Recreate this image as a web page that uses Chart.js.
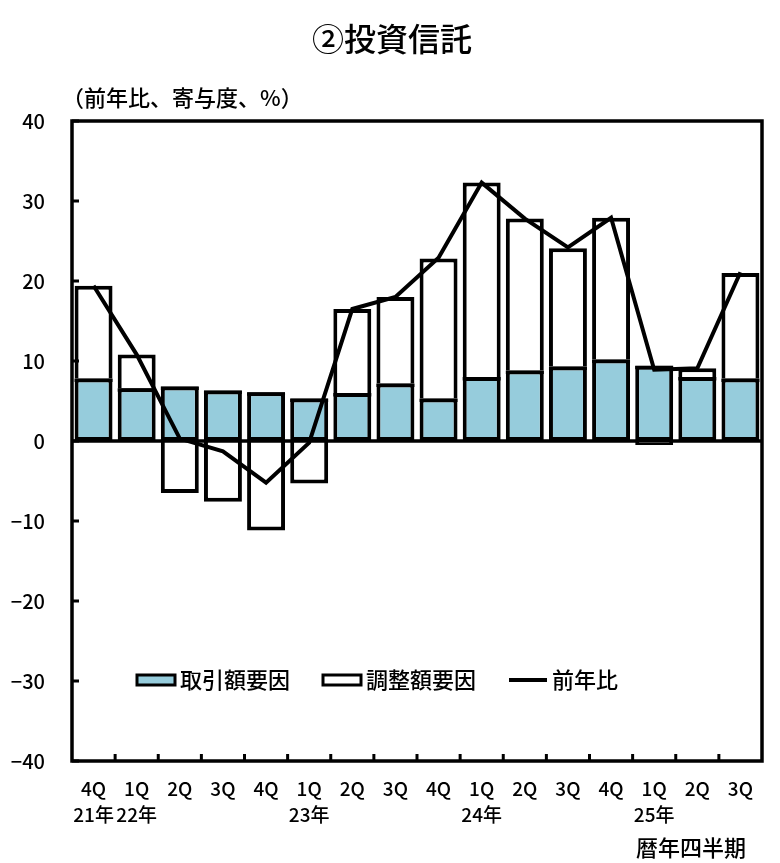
<!DOCTYPE html>
<html>
<head>
<meta charset="utf-8">
<script src="https://cdn.jsdelivr.net/npm/chart.js@4"></script>
<style>
  html, body { margin: 0; padding: 0; background: #fff; }
  #wrap { width: 780px; height: 863px; }
</style>
</head>
<body>
<div id="wrap"><canvas id="fundChart" width="780" height="863"></canvas></div>
<script>
// Data (percent, y/y and contributions)
const quarters = ['4Q', '1Q', '2Q', '3Q', '4Q', '1Q', '2Q', '3Q', '4Q', '1Q', '2Q', '3Q', '4Q', '1Q', '2Q', '3Q'];
const years = ['21年', '22年', '', '', '', '23年', '', '', '', '24年', '', '', '', '25年', '', ''];
const tradeFactor = [7.8, 6.6, 6.8, 6.3, 6.1, 5.3, 6.0, 7.2, 5.3, 8.0, 8.8, 9.3, 10.2, 9.4, 8.0, 7.8];
const adjustFactor = [11.6, 4.2, -6.5, -7.6, -11.2, -5.3, 10.5, 10.8, 17.5, 24.3, 19.0, 14.8, 17.7, -0.5, 1.1, 13.2];
const yoy = [19.4, 10.8, 0.3, -1.3, -5.2, -0.2, 16.5, 18.0, 22.9, 32.3, 27.8, 24.2, 27.9, 8.9, 9.1, 21.1];
const yTicks = [-40, -30, -20, -10, 0, 10, 20, 30, 40];

const FONT = "'Noto Sans CJK JP', 'Noto Sans', sans-serif";
const BLUE = '#96ccdc';

// title, unit text, in-plot legend, frame and inside tick marks
const decorPlugin = {
  id: 'decor',
  afterDatasetsDraw(chart) {
    const ctx = chart.ctx;
    const area = chart.chartArea;
    const y0 = chart.scales.y.getPixelForValue(0);
    ctx.save();
    ctx.strokeStyle = '#000';
    // top edge of each blue bar (boundary with the stacked white part)
    ctx.lineWidth = 3.5;
    ctx.beginPath();
    chart.getDatasetMeta(0).data.forEach(bar => {
      const p = bar.getProps(['x', 'y', 'width'], true);
      ctx.moveTo(p.x - p.width / 2, p.y + 1.75);
      ctx.lineTo(p.x + p.width / 2, p.y + 1.75);
    });
    ctx.stroke();
    // zero line
    ctx.beginPath();
    ctx.moveTo(area.left, y0);
    ctx.lineTo(area.right, y0);
    ctx.stroke();
    ctx.restore();
  },
  afterDraw(chart) {
    const ctx = chart.ctx;
    const area = chart.chartArea;
    const xs = chart.scales.x;
    const ys = chart.scales.y;
    ctx.save();

    // frame
    ctx.strokeStyle = '#000';
    ctx.lineWidth = 3.5;
    ctx.strokeRect(area.left, area.top, area.right - area.left, area.bottom - area.top);

    // inside ticks
    ctx.lineWidth = 3;
    ctx.beginPath();
    ys.ticks.forEach(t => {
      const py = ys.getPixelForValue(t.value);
      ctx.moveTo(area.left, py);
      ctx.lineTo(area.left + 7, py);
    });
    for (let i = 0; i < quarters.length - 1; i++) {
      const px = (xs.getPixelForValue(i) + xs.getPixelForValue(i + 1)) / 2;
      ctx.moveTo(px, area.bottom);
      ctx.lineTo(px, area.bottom - 7);
    }
    ctx.stroke();

    // title + unit
    ctx.fillStyle = '#000';
    ctx.textBaseline = 'middle';
    ctx.textAlign = 'center';
    ctx.font = '500 32px ' + FONT;
    ctx.fillText('②投資信託', 392, 39);
    ctx.textAlign = 'left';
    ctx.font = '500 22px ' + FONT;
    ctx.fillText('（前年比、寄与度、%）', 62, 98);
    ctx.textAlign = 'right';
    ctx.font = '500 22px ' + FONT;
    ctx.fillText('暦年四半期', 746, 848);

    // legend inside the plot
    const ds = chart.data.datasets;
    const ly = 680;
    let lx = 137;
    ctx.font = '500 22px ' + FONT;
    ctx.textAlign = 'left';
    ds.forEach(d => {
      if (d.type === 'line') {
        ctx.strokeStyle = d.borderColor;
        ctx.lineWidth = 4;
        ctx.beginPath();
        ctx.moveTo(lx, ly);
        ctx.lineTo(lx + 38, ly);
        ctx.stroke();
      } else {
        ctx.fillStyle = d.backgroundColor;
        ctx.fillRect(lx, ly - 5, 38, 10);
        ctx.strokeStyle = '#000';
        ctx.lineWidth = 3;
        ctx.strokeRect(lx, ly - 5, 38, 10);
      }
      ctx.fillStyle = '#000';
      ctx.fillText(d.label, lx + 43, ly);
      lx += 43 + ctx.measureText(d.label).width + 33;
    });
    ctx.restore();
  }
};

const ctx = document.getElementById('fundChart').getContext('2d');
new Chart(ctx, {
  data: {
    labels: quarters.map((q, i) => [q, years[i]]),
    datasets: [
      {
        type: 'bar',
        label: '取引額要因',
        data: tradeFactor,
        backgroundColor: BLUE,
        borderColor: '#000',
        borderWidth: 4,
        borderSkipped: false,
        stack: 'bars',
        order: 1,
        categoryPercentage: 1,
        barPercentage: 0.88
      },
      {
        type: 'bar',
        label: '調整額要因',
        data: adjustFactor,
        backgroundColor: '#ffffff',
        borderColor: '#000',
        borderWidth: 4,
        borderSkipped: 'start',
        stack: 'bars',
        order: 2,
        categoryPercentage: 1,
        barPercentage: 0.88
      },
      {
        type: 'line',
        label: '前年比',
        data: yoy,
        borderColor: '#000',
        borderWidth: 4,
        pointRadius: 0,
        tension: 0,
        stack: 'line',
        order: 0
      }
    ]
  },
  options: {
    responsive: false,
    animation: false,
    layout: { padding: { top: 121, right: 18, left: 0, bottom: 0 } },
    plugins: {
      legend: { display: false },
      title: { display: false },
      tooltip: { enabled: false }
    },
    scales: {
      x: {
        stacked: true,
        grid: { display: false, drawTicks: false },
        border: { display: false },
        ticks: {
          color: '#000',
          font: { family: FONT, size: 19, weight: '500', lineHeight: 1.4 },
          padding: 14,
          maxRotation: 0,
          autoSkip: false
        },
        afterFit(scale) { scale.height = 102; }
      },
      y: {
        stacked: true,
        min: -40,
        max: 40,
        afterBuildTicks(scale) { scale.ticks = yTicks.map(v => ({ value: v })); },
        grid: { display: false, drawTicks: false },
        border: { display: false },
        ticks: {
          color: '#000',
          font: { family: FONT, size: 20, weight: '500' },
          padding: 27,
          callback: v => String(v).replace('-', '−')
        },
        afterFit(scale) { scale.width = 72; }
      }
    }
  },
  plugins: [decorPlugin]
});
</script>
</body>
</html>
